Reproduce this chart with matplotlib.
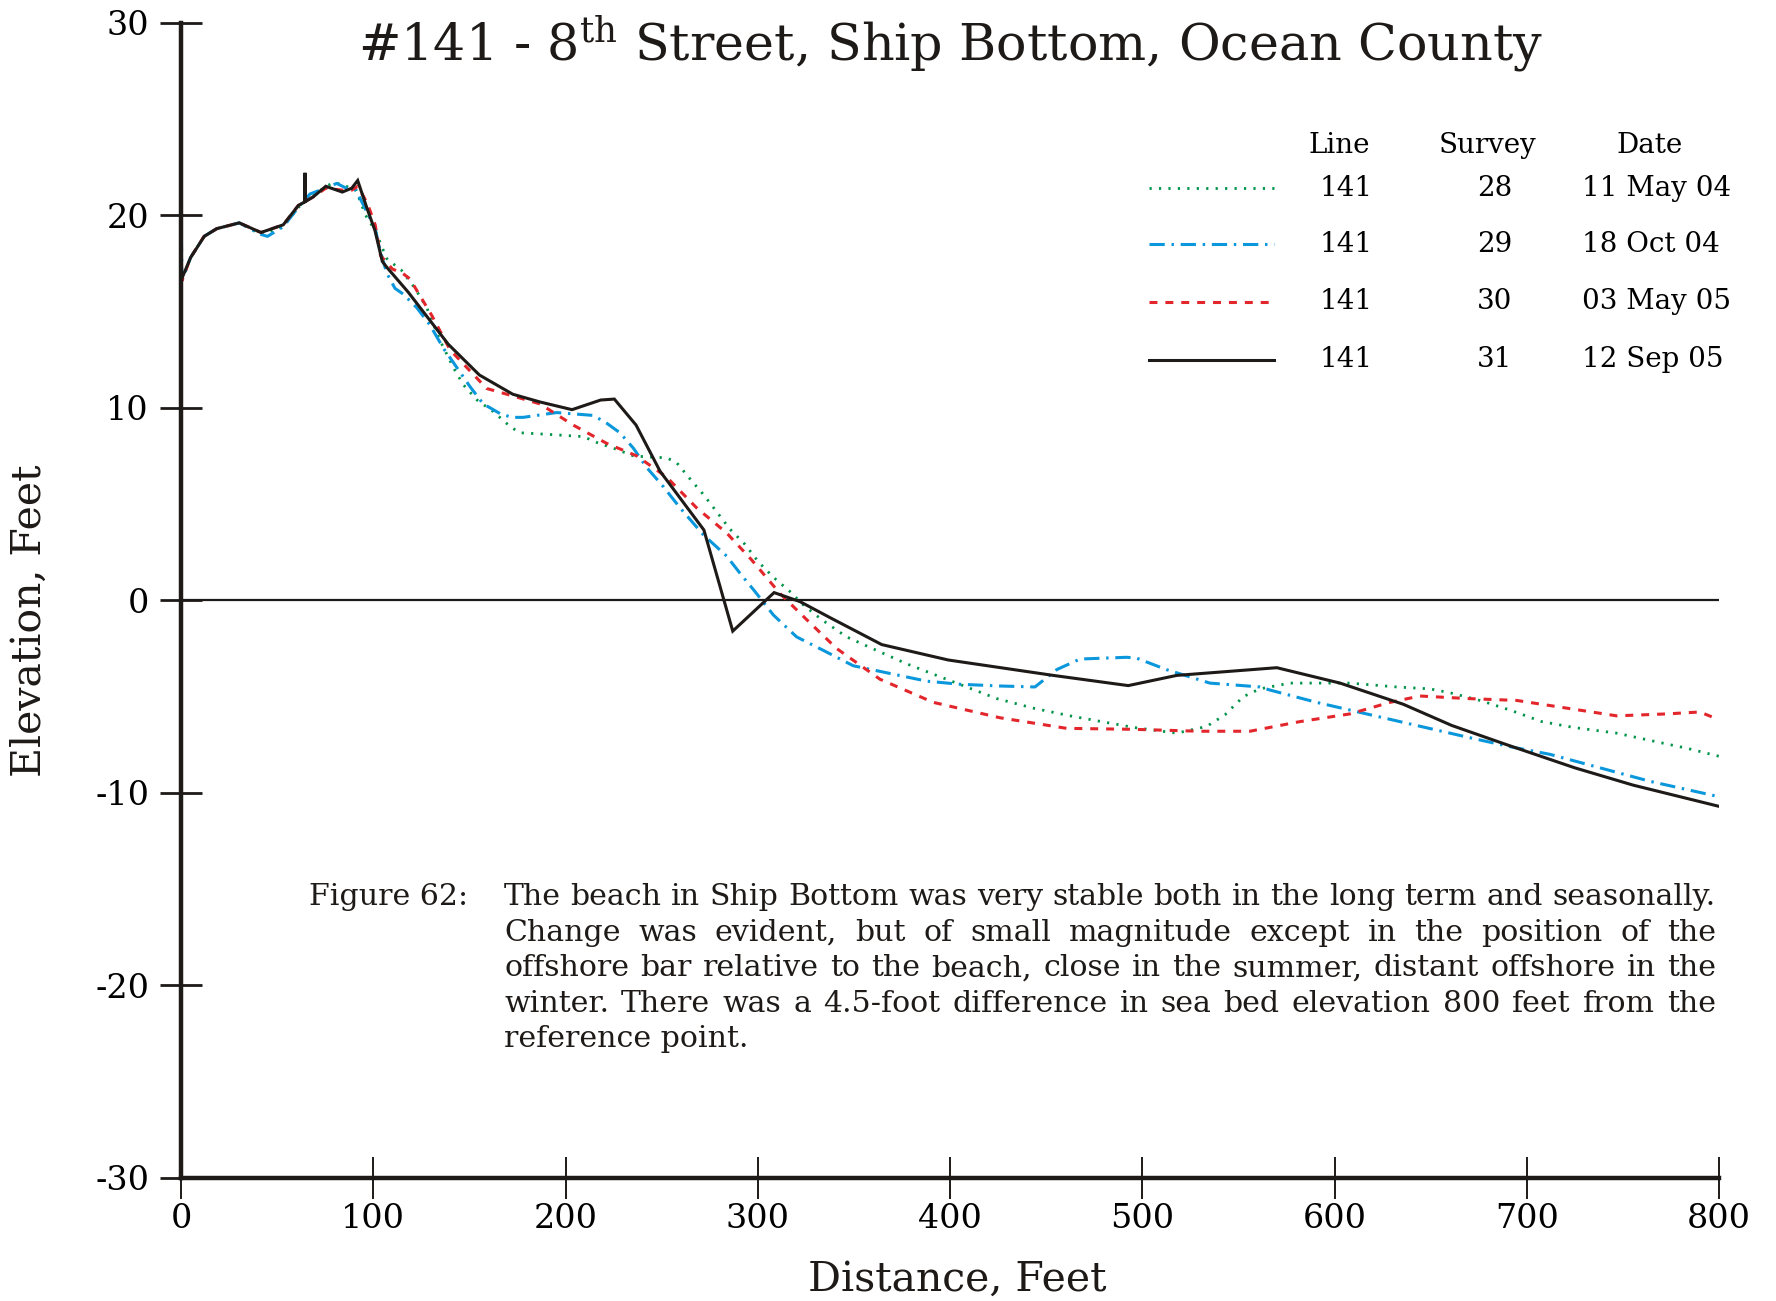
"""Beach profile #141 - 8th Street, Ship Bottom, Ocean County (surveys 28-31)."""

import matplotlib

matplotlib.use("Agg")
import matplotlib.pyplot as plt

plt.rcParams["font.family"] = ["DejaVu Serif"]
plt.rcParams["mathtext.fontset"] = "dejavuserif"
plt.rcParams["axes.unicode_minus"] = False

# ---------------------------------------------------------------------------
# Data
# ---------------------------------------------------------------------------

s28_x = [0, 5, 12, 18.6, 30.3, 41.6, 53.2, 61, 68.8, 75.3, 80, 86, 91, 96, 101,
         107, 111.3, 114.6, 121.7, 127.8, 134.7, 141.6, 146.8, 154, 162.4, 171.5,
         176.3, 193.7, 209.3, 216.2, 224.9, 235.3, 242.2, 252.6, 257.8, 264.8,
         271.7, 278.6, 285.5, 293.4, 300.3, 308.1, 316.8, 323.7, 333.2, 346.2,
         361.8, 377.5, 393, 408.6, 424.2, 443.3, 462.4, 478.9, 495.4, 517.9,
         533.5, 543, 552.6, 561.2, 576.8, 608, 632.3, 649.7, 660, 675.7, 691.3,
         707.8, 724.2, 746.8, 767.6, 784, 800]
s28_y = [16.6, 17.8, 18.9, 19.3, 19.6, 19.0, 19.4, 20.4, 21.0, 21.5, 21.7, 21.5,
         21.3, 20.0, 19.2, 17.75, 17.4, 17.15, 16.2, 15.2, 13.5, 12.1, 11.2, 10.4,
         9.8, 9.0, 8.7, 8.6, 8.5, 8.2, 7.9, 7.5, 7.45, 7.4, 7.15, 6.3, 5.5, 4.6,
         3.7, 2.9, 2.0, 1.2, 0.45, -0.24, -1.0, -1.9, -2.6, -3.3, -3.9, -4.5, -5.1,
         -5.6, -6.0, -6.3, -6.6, -6.9, -6.55, -5.95, -5.0, -4.6, -4.3, -4.3, -4.5,
         -4.6, -4.8, -5.2, -5.7, -6.3, -6.6, -6.9, -7.35, -7.7, -8.1]

s29_x = [0, 0.5, 5, 12, 18.6, 30.3, 41.6, 45, 53.2, 61, 67.1, 75, 81, 86, 91, 96,
         101, 103.5, 107, 111.3, 115.6, 122.6, 129.5, 136.4, 143.4, 150.3, 157.2,
         165.9, 172, 178, 195.4, 214.5, 221.4, 228.3, 235.3, 242.2, 250.9, 259.6,
         271.7, 283.8, 290.8, 298.6, 308.1, 320.2, 334.1, 349.7, 368.8, 387.9,
         405.2, 426, 444.2, 455.5, 467.6, 491.9, 497, 512.6, 535.2, 561.2, 566.4,
         590.7, 616.7, 642.7, 668.8, 691.3, 712.1, 738.1, 764.1, 800]
s29_y = [20.5, 16.6, 17.8, 18.9, 19.3, 19.6, 19.0, 18.9, 19.4, 20.4, 21.1, 21.4,
         21.65, 21.4, 21.3, 20.3, 19.3, 18.2, 17.0, 16.2, 15.9, 15.2, 14.3, 13.1,
         12.1, 11.1, 10.2, 9.7, 9.5, 9.5, 9.75, 9.6, 9.2, 8.7, 7.9, 6.9, 5.9, 4.8,
         3.4, 2.3, 1.4, 0.45, -0.76, -1.9, -2.6, -3.4, -3.8, -4.2, -4.36, -4.45,
         -4.5, -3.6, -3.05, -2.96, -3.0, -3.6, -4.3, -4.5, -4.66, -5.3, -5.9, -6.5,
         -7.1, -7.6, -8.0, -8.7, -9.4, -10.2]

s30_x = [0, 0.5, 5, 12, 18.6, 30.3, 41.6, 53.2, 61, 68.8, 75.3, 83.9, 88.8, 92,
         97, 101, 103.8, 110, 115, 119, 130.4, 140, 159, 173, 186.7, 204, 221.4,
         237, 252.6, 268.2, 283.8, 296.8, 311.5, 325.4, 341, 363.6, 391.3, 426,
         460.7, 495.4, 530, 556, 582, 608, 628.9, 644.5, 668.8, 694.8, 720.8,
         746.8, 772.8, 790, 800]
s30_y = [18.5, 16.6, 17.8, 18.9, 19.3, 19.6, 19.1, 19.5, 20.5, 20.95, 21.4, 21.3,
         21.3, 21.5, 20.6, 19.5, 17.9, 17.2, 17.0, 16.7, 14.8, 13.0, 11.0, 10.6,
         10.2, 9.1, 8.15, 7.5, 6.4, 4.8, 3.5, 2.1, 0.36, -1.0, -2.5, -4.1, -5.3,
         -6.1, -6.65, -6.7, -6.8, -6.8, -6.3, -5.9, -5.3, -4.97, -5.1, -5.2, -5.6,
         -6.0, -5.9, -5.8, -6.2]

s31_x = [0, 5, 12.1, 18.6, 30.3, 41.6, 53.2, 61, 64.5, 64.5, 64.5, 68.8, 75.3,
         83.9, 88.8, 91.9, 96.6, 100.9, 104.7, 107, 118.2, 139, 155.2, 172.6,
         186.7, 203.4, 218.3, 225.4, 236.7, 249.2, 272, 287, 308.5, 322, 337.6,
         364.5, 399.1, 453.7, 492.7, 517.9, 570, 602.9, 635.8, 661, 689.6, 725,
         755.4, 800]
s31_y = [16.6, 17.8, 18.9, 19.3, 19.6, 19.1, 19.5, 20.5, 20.7, 22.2, 20.7, 20.95,
         21.5, 21.2, 21.4, 21.8, 20.4, 19.2, 17.6, 17.3, 16.0, 13.3, 11.7, 10.7,
         10.3, 9.9, 10.4, 10.45, 9.1, 6.7, 3.65, -1.6, 0.4, -0.07, -0.9, -2.3,
         -3.1, -3.9, -4.43, -3.9, -3.5, -4.3, -5.4, -6.5, -7.5, -8.7, -9.6, -10.7]

legend_line = ["141", "141", "141", "141"]
legend_survey = ["28", "29", "30", "31"]
legend_date = ["11 May 04", "18 Oct 04", "03 May 05", "12 Sep 05"]

caption_label = "Figure 62:"
caption_lines = [
    "The beach in Ship Bottom was very stable both in the long term and seasonally.",
    "Change was evident, but of small magnitude except in the position of the",
    "offshore bar relative to the beach, close in the summer, distant offshore in the",
    "winter.  There was a 4.5-foot difference in sea bed elevation 800 feet from the",
    "reference point.",
]

# ---------------------------------------------------------------------------
# Styles
# ---------------------------------------------------------------------------

GREEN = "#00944a"
BLUE = "#0a97dc"
RED = "#e3262b"
BLACK = "#1e1a18"

styles = [
    dict(color=GREEN, lw=2.0, ls=(0, (0.8, 2.6))),
    dict(color=BLUE, lw=2.2, ls=(0, (5.0, 2.2, 0.8, 2.2))),
    dict(color=RED, lw=2.2, ls=(0, (2.6, 2.6))),
    dict(color=BLACK, lw=2.2, ls="-"),
]
series = [(s28_x, s28_y), (s29_x, s29_y), (s30_x, s30_y), (s31_x, s31_y)]

# ---------------------------------------------------------------------------
# Figure
# ---------------------------------------------------------------------------

W, H = 1776, 1301
fig = plt.figure(figsize=(W / 100, H / 100), dpi=100)
ax = fig.add_axes([181 / W, 1 - 1178 / H, (1719 - 181) / W, (1178 - 22.6) / H])

for (xs, ys), st in zip(series, styles):
    ax.plot(xs, ys, solid_joinstyle="miter", dash_capstyle="butt", **st)

ax.axhline(0, color=BLACK, lw=1.6, zorder=1)

ax.set_xlim(0, 800)
ax.set_ylim(-30, 30)
ax.set_xticks(range(0, 801, 100))
ax.set_yticks(range(-30, 31, 10))
ax.spines["top"].set_visible(False)
ax.spines["right"].set_visible(False)
for side in ("left", "bottom"):
    ax.spines[side].set_linewidth(3.2)
    ax.spines[side].set_color(BLACK)
ax.tick_params(axis="y", direction="inout", length=30, width=2.0, color=BLACK,
               labelsize=24, pad=8)
ax.tick_params(axis="x", direction="inout", length=30, width=1.4, color=BLACK,
               labelsize=24, pad=3)
ax.patch.set_visible(False)

# titles and axis labels
fig.text(950 / W, 1 - 60 / H, r"#141 - 8$^{\mathrm{th}}$ Street, Ship Bottom, Ocean County",
         ha="center", va="baseline", fontsize=36.5, color=BLACK)
fig.text(30 / W, 1 - 621 / H, "Elevation, Feet", rotation=90, ha="center",
         va="center", fontsize=29.5, color=BLACK)
fig.text(957 / W, 1 - 1280 / H, "Distance, Feet", ha="center", va="center",
         fontsize=29.5, color=BLACK)

# legend table (data coordinates)
ax.text(602.6, 23.6, "Line", ha="center", va="center", fontsize=20)
ax.text(679.7, 23.6, "Survey", ha="center", va="center", fontsize=20)
ax.text(763.9, 23.6, "Date", ha="center", va="center", fontsize=20)
row_y = [21.4, 18.5, 15.5, 12.5]
for i, st in enumerate(styles):
    ax.plot([503.6, 568.4], [row_y[i], row_y[i]], **st)
    ax.text(606.1, row_y[i], legend_line[i], ha="center", va="center", fontsize=20)
    ax.text(683.2, row_y[i], legend_survey[i], ha="center", va="center", fontsize=20)
    ax.text(728.6, row_y[i], legend_date[i], ha="left", va="center", fontsize=20)

# caption, justified between two x positions; font size fitted to line 1
renderer = fig.canvas.get_renderer()
left, right = 504, 1716
probe = fig.text(0, 0, caption_lines[0], fontsize=20)
cap_fs = 20 * (right - left) / probe.get_window_extent(renderer).width
probe.remove()

fig.text(309 / W, 1 - 905 / H, caption_label, ha="left", va="baseline",
         fontsize=cap_fs, color=BLACK)
for i, line in enumerate(caption_lines):
    yb = 1 - (905 + 35.6 * i) / H
    if i == len(caption_lines) - 1:
        fig.text(left / W, yb, line, ha="left", va="baseline", fontsize=cap_fs,
                 color=BLACK)
        continue
    words = line.split()
    texts = [fig.text(0, yb, w, ha="left", va="baseline", fontsize=cap_fs,
                      color=BLACK) for w in words]
    widths = [t.get_window_extent(renderer).width for t in texts]
    gap = (right - left - sum(widths)) / (len(words) - 1)
    xpos = left
    for t, wd in zip(texts, widths):
        t.set_x(xpos / W)
        xpos += wd + gap

fig.savefig("out.png", dpi=100)
